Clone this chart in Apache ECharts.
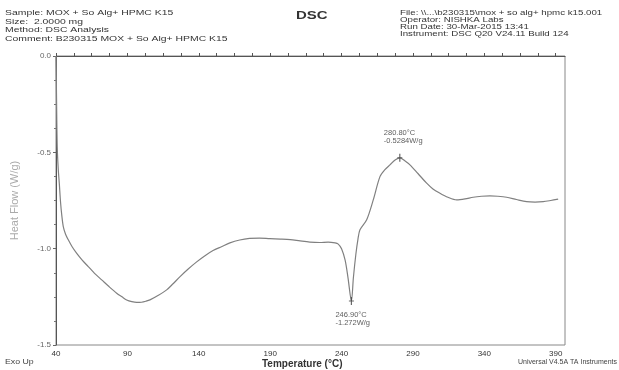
<!DOCTYPE html>
<html>
<head>
<meta charset="utf-8">
<script src="https://cdn.jsdelivr.net/npm/echarts@6/dist/echarts.min.js"></script>
<style>
html,body{margin:0;padding:0;background:#fff;}
#chart{width:619px;height:370px;}
</style>
</head>
<body>
<div id="chart"></div>
<script>
// DSC thermogram: temperature (°C) vs heat flow (W/g)
const temperature = [40.0, 40.2, 40.5, 40.9, 41.6, 42.3, 43.2, 44.1, 45.1, 46.7, 48.6, 51.3, 54.4, 58.2, 62.6, 67.0, 72.0, 77.3, 82.5, 86.2, 89.5, 93.1, 96.5, 99.9, 102.9, 105.8, 111.7, 117.5, 122.0, 126.9, 132.4, 138.3, 144.1, 150.0, 155.9, 161.8, 168.7, 175.6, 182.5, 189.8, 197.2, 204.1, 211.0, 217.8, 224.7, 230.6, 235.5, 237.5, 240.0, 242.5, 244.5, 246.9, 248.3, 250.0, 251.5, 252.9, 257.6, 262.2, 266.9, 270.4, 273.9, 277.5, 280.8, 284.5, 287.9, 293.5, 299.6, 304.0, 308.9, 314.5, 320.6, 326.5, 332.2, 338.0, 343.9, 349.5, 355.6, 362.5, 369.6, 375.5, 381.2, 386.5, 391.7];
const heatFlow = [0.000, -0.10, -0.30, -0.48, -0.59, -0.66, -0.76, -0.83, -0.885, -0.925, -0.954, -0.99, -1.023, -1.058, -1.093, -1.128, -1.162, -1.198, -1.231, -1.25, -1.266, -1.275, -1.279, -1.278, -1.273, -1.266, -1.242, -1.214, -1.182, -1.145, -1.107, -1.07, -1.038, -1.01, -0.99, -0.97, -0.955, -0.947, -0.945, -0.948, -0.95, -0.953, -0.96, -0.966, -0.968, -0.966, -0.97, -0.975, -1.0, -1.06, -1.15, -1.272, -1.15, -1.03, -0.95, -0.902, -0.85, -0.747, -0.626, -0.59, -0.565, -0.54, -0.5284, -0.545, -0.565, -0.61, -0.66, -0.69, -0.712, -0.733, -0.747, -0.742, -0.733, -0.728, -0.726, -0.728, -0.733, -0.745, -0.756, -0.758, -0.756, -0.75, -0.743];

// Annotated events
const eventTemps = [246.90, 280.80];
const eventFlows = [-1.272, -0.5284];
const eventFlowText = ['-1.272W/g', '-0.5284W/g'];
const eventLabelPos = ['bottom', 'top'];

// Axis ticks
const xLabelValues = [40, 90, 140, 190, 240, 290, 340, 390];
const xTickValues = [];
for (let t = 40; t <= 396; t += 12.5) xTickValues.push(t);

const headerLeft = ['Sample: MOX + So Alg+ HPMC K15', 'Size:  2.0000 mg', 'Method: DSC Analysis', 'Comment: B230315 MOX + So Alg+ HPMC K15'];
const headerRight = ['File: \\\\...\\b230315\\mox + so alg+ hpmc k15.001', 'Operator: NISHKA Labs', 'Run Date: 30-Mar-2015 13:41', 'Instrument: DSC Q20 V24.11 Build 124'];

const font = '"Liberation Sans", Arial, sans-serif';
const chart = echarts.init(document.getElementById('chart'));

const curve = temperature.map((t, i) => [t, heatFlow[i]]);
const events = eventTemps.map((t, i) => ({
  value: [t, eventFlows[i]],
  label: {
    position: eventLabelPos[i],
    distance: i === 0 ? 6 : 9,
    formatter: t.toFixed(2) + '°C\n' + eventFlowText[i]
  }
}));

// wide, compact header lettering
function wideText(x, y, s, size, sx, color, weight) {
  return {
    type: 'text', x: x, y: y, scaleX: sx, scaleY: 1,
    style: { text: s, font: (weight || 'normal') + ' ' + size + 'px ' + font, fill: color }
  };
}
const graphic = [];
headerLeft.forEach((s, i) => graphic.push(wideText(5, 9 + i * 8.5, s, 8, 1.3, '#333')));
headerRight.forEach((s, i) => graphic.push(wideText(400, 10 + i * 6.8, s, 7.2, 1.35, '#333')));
graphic.push(wideText(296, 10, 'DSC', 11.5, 1.3, '#333', 'bold'));
graphic.push(wideText(5, 359, 'Exo Up', 7, 1.25, '#444'));
graphic.push({ type: 'text', right: 2, top: 359, style: { text: 'Universal V4.5A TA Instruments', font: '7px ' + font, fill: '#444' } });
graphic.push({ type: 'text', left: 262, top: 359, style: { text: 'Temperature (°C)', font: 'bold 10px ' + font, fill: '#333' } });

chart.setOption({
  animation: false,
  backgroundColor: '#fff',
  grid: { left: 56, top: 56, right: 54, bottom: 25, show: true, borderColor: '#888', borderWidth: 1 },
  graphic: graphic,
  xAxis: {
    type: 'value', min: 40, max: 396.5,
    axisLine: { lineStyle: { color: '#555', width: 1 } },
    axisTick: { inside: true, length: 3, customValues: xTickValues, lineStyle: { color: '#555' } },
    axisLabel: { customValues: xLabelValues, color: '#333', fontSize: 8, fontFamily: font, margin: 5 },
    splitLine: { show: false }
  },
  yAxis: {
    type: 'value', min: -1.5, max: 0, interval: 0.5,
    name: 'Heat Flow (W/g)', nameLocation: 'middle', nameGap: 36,
    nameTextStyle: { color: '#aaa', fontSize: 11, fontFamily: font },
    axisLine: { show: true, lineStyle: { color: '#555', width: 1 } },
    axisTick: { show: true, inside: false, length: 3, lineStyle: { color: '#666' } },
    minorTick: { show: true, splitNumber: 4, length: 2, lineStyle: { color: '#777' } },
    axisLabel: { color: '#666', fontSize: 8, fontFamily: font, margin: 5, formatter: v => v.toFixed(1) },
    splitLine: { show: false }
  },
  series: [
    {
      type: 'line', data: curve, showSymbol: false, smooth: 0.3,
      lineStyle: { color: '#808080', width: 1.2 }
    },
    {
      type: 'scatter', data: events,
      symbol: 'path://M-0.6,-5h1.2v10h-1.2z M-2.5,-0.6h5v1.2h-5z', symbolSize: [5, 8],
      itemStyle: { color: '#444' },
      label: { show: true, color: '#333', fontSize: 7.5, fontFamily: font, lineHeight: 8, align: 'left', offset: [-16, 0] },
      z: 5
    }
  ]
});
</script>
</body>
</html>
